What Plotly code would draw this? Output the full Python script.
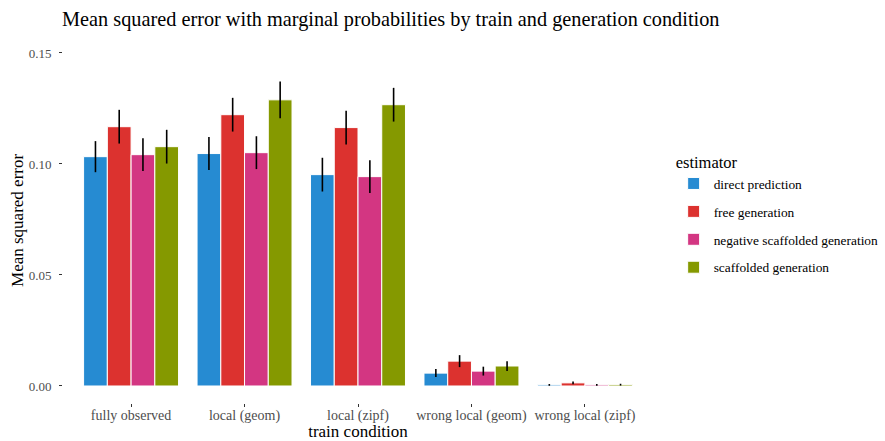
import plotly.graph_objects as go

conditions = ["fully observed", "local (geom)", "local (zipf)", "wrong local (geom)", "wrong local (zipf)"]
estimators = ["direct prediction", "free generation", "negative scaffolded generation", "scaffolded generation"]
colors = ["#268bd2", "#dc322f", "#d33682", "#859900"]

mse_direct = [0.1033, 0.1047, 0.0952, 0.0058, 0.0005]
mse_free = [0.1168, 0.1222, 0.1164, 0.0112, 0.0014]
mse_negscaf = [0.1042, 0.1051, 0.0943, 0.0067, 0.0005]
mse_scaf = [0.1078, 0.1289, 0.1267, 0.0090, 0.0006]

se_direct = [0.0070, 0.0074, 0.0076, 0.0018, 0.0004]
se_free = [0.0076, 0.0076, 0.0076, 0.0027, 0.0006]
se_negscaf = [0.0074, 0.0074, 0.0074, 0.0020, 0.0004]
se_scaf = [0.0076, 0.0083, 0.0076, 0.0022, 0.0004]

values = [mse_direct, mse_free, mse_negscaf, mse_scaf]
errors = [se_direct, se_free, se_negscaf, se_scaf]

fig = go.Figure()
for name, col, v, e in zip(estimators, colors, values, errors):
    fig.add_trace(go.Bar(
        x=conditions, y=v, name=name, legendgroup=name,
        marker=dict(color=col, line=dict(color="white", width=1)),
        error_y=dict(type="data", array=e, visible=True, color="black", thickness=1.6, width=0),
    ))

font_family = "Liberation Serif"
fig.update_layout(
    width=885, height=441,
    margin=dict(l=63, r=232, t=37, b=38, autoexpand=False),
    paper_bgcolor="white", plot_bgcolor="white",
    barmode="group", bargap=0.163, bargroupgap=0,
    font=dict(family=font_family, color="#4d4d4d", size=13),
    title=dict(text="Mean squared error with marginal probabilities by train and generation condition",
               x=62 / 885, xanchor="left", y=0.958, yanchor="middle",
               font=dict(family=font_family, size=20.3, color="black")),
    xaxis=dict(title=dict(text="train condition", font=dict(size=17, color="black"), standoff=2),
               automargin=False, ticklabelstandoff=-4,
               showgrid=False, zeroline=False, ticks="outside", ticklen=3, tickcolor="#333333",
               tickfont=dict(size=14, color="#4d4d4d"), range=[-0.6, 4.6]),
    yaxis=dict(automargin=False, ticklabelstandoff=5,
               showgrid=False, zeroline=False, ticks="outside", ticklen=3, tickcolor="#333333",
               tickvals=[0, 0.05, 0.10, 0.15], ticktext=["0.00", "0.05", "0.10", "0.15"],
               tickfont=dict(size=13, color="#4d4d4d"), range=[-0.00766, 0.1572]),
    annotations=[dict(text="Mean squared error", textangle=-90, showarrow=False,
                      xref="paper", yref="paper", x=-0.078, y=0.5, xanchor="center", yanchor="middle",
                      font=dict(family=font_family, size=17, color="black"))],
    legend=dict(title=dict(text="estimator", font=dict(size=16.5, color="black")),
                x=1.035, xanchor="left", y=0.70, yanchor="top",
                font=dict(size=13.4, color="black"), tracegroupgap=7.5, itemwidth=30),
)
fig.write_html("out.html", config={"displayModeBar": False},
               post_script="document.body.style.margin='0';")
